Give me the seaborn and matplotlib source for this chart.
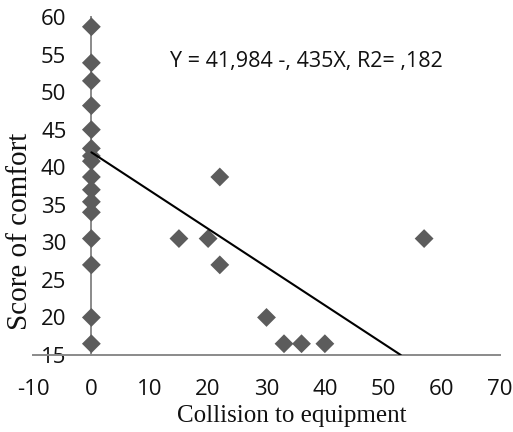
import matplotlib
matplotlib.use("Agg")
import matplotlib.pyplot as plt
import seaborn as sns
import pandas as pd

# ---- data ----
collision = [0, 0, 0, 0, 0, 0, 0, 0, 0, 0, 0, 0, 0, 0, 0, 0,
             15, 20, 22, 22, 30, 33, 36, 40, 57]
comfort = [58.7, 53.9, 51.5, 48.2, 45.0, 42.5, 41.5, 40.8, 38.7, 37.0,
           35.4, 34.0, 30.5, 27.0, 20.0, 16.5,
           30.5, 30.5, 38.7, 27.0, 20.0, 16.5, 16.5, 16.5, 30.5]
trend_x = [0, 53]
trend_y = [41.984, 15]
x_ticks = [-10, 0, 10, 20, 30, 40, 50, 60, 70]
y_ticks = [15, 20, 25, 30, 35, 40, 45, 50, 55, 60]
equation = "Y = 41,984 -, 435X, R2= ,182"

df = pd.DataFrame({"x": collision, "y": comfort})

sns.set_style("white")
plt.rcParams["font.family"] = ["Open Sans", "DejaVu Sans"]

fig = plt.figure(figsize=(5.13, 4.32), dpi=100)
ax = fig.add_axes([33 / 513, 1 - 355 / 432, (500 - 33) / 513, (355 - 17) / 432])

sns.scatterplot(data=df, x="x", y="y", marker="D", s=92, color="#5c5c5c",
                edgecolor="none", ax=ax, zorder=3, legend=False)
sns.lineplot(x=trend_x, y=trend_y, color="black", linewidth=1.5, ax=ax,
             zorder=4, estimator=None, sort=False)

ax.set_xlim(-10, 70)
ax.set_ylim(15, 60)
ax.set_xticks(x_ticks)
ax.set_yticks(y_ticks)
ax.set_xticklabels([str(v) for v in x_ticks])
ax.set_yticklabels([str(v) for v in y_ticks])

for s in ["top", "right"]:
    ax.spines[s].set_visible(False)
ax.spines["left"].set_position(("data", 0))
for s in ["left", "bottom"]:
    ax.spines[s].set_color("#8a8a8a")
    ax.spines[s].set_linewidth(1.4)
    ax.spines[s].set_zorder(2)

ax.tick_params(axis="both", length=0, labelsize=16, colors="#111111")
ax.tick_params(axis="y", pad=18)
ax.tick_params(axis="x", pad=17)
ax.grid(False)

ax.set_xlabel("")
ax.set_ylabel("")
fig.text(292 / 513, 1 - 416 / 432, "Collision to equipment", ha="center", va="center",
         fontsize=18, family=["Liberation Serif"], color="#111111")
fig.text(20 / 513, 1 - 231 / 432, "Score of comfort", ha="center", va="center",
         rotation=90, fontsize=21, family=["Liberation Serif"], color="#111111")

ax.text(13.4, 54.1, equation, ha="left", va="center", fontsize=15.5, color="#111111")

fig.savefig("out.png", dpi=100)
